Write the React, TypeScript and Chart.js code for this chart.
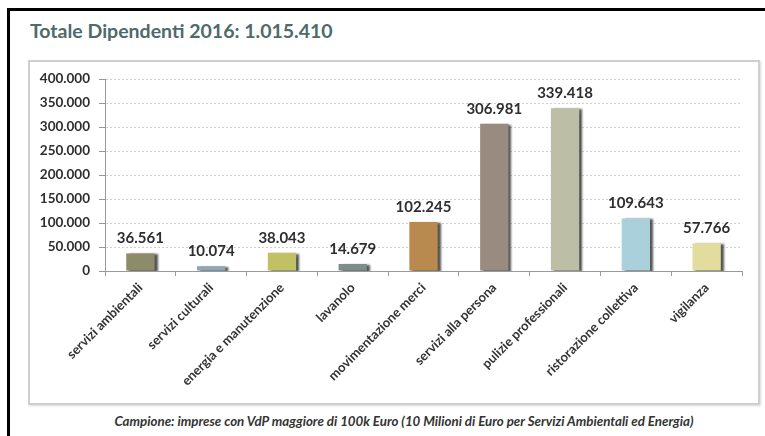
import React, { useEffect, useRef } from "react";
import { Chart, registerables } from "chart.js";

Chart.register(...registerables);

const categories = [
  "servizi ambientali",
  "servizi culturali",
  "energia e manutenzione",
  "lavanolo",
  "movimentazione merci",
  "servizi alla persona",
  "pulizie professionali",
  "ristorazione collettiva",
  "vigilanza",
];
const values = [36561, 10074, 38043, 14679, 102245, 306981, 339418, 109643, 57766];
const barColors = [
  "#8c8b6a",
  "#8fa8b6",
  "#c0c064",
  "#7f8c8a",
  "#b98a50",
  "#9a8b80",
  "#bdbea6",
  "#a9d0db",
  "#e2dd9f",
];
const yMin = 0;
const yMax = 400000;
const yStep = 50000;
const titleText = "Totale Dipendenti 2016: 1.015.410";
const footnoteText =
  "Campione: imprese con VdP maggiore di 100k Euro (10 Milioni di Euro per Servizi Ambientali ed Energia)";

const fmt = (v: number) => String(Math.round(v)).replace(/\B(?=(\d{3})+(?!\d))/g, ".");

const FONT = "Lato, 'Open Sans', sans-serif";

const shadowPlugin = {
  id: "barShadow",
  beforeDatasetsDraw(chart: any) {
    const ctx = chart.ctx;
    ctx.save();
    ctx.shadowColor = "rgba(30,30,30,0.75)";
    ctx.shadowOffsetX = 3;
    ctx.shadowOffsetY = 1;
    ctx.shadowBlur = 2;
  },
  afterDatasetsDraw(chart: any) {
    chart.ctx.restore();
  },
};

const labelPlugin = {
  id: "valueLabels",
  afterDatasetsDraw(chart: any) {
    const ctx = chart.ctx;
    const meta = chart.getDatasetMeta(0);
    ctx.save();
    ctx.font = `bold 15px ${FONT}`;
    ctx.fillStyle = "#2e2e2e";
    ctx.textAlign = "center";
    ctx.textBaseline = "middle";
    meta.data.forEach((bar: any, i: number) => {
      ctx.fillText(fmt(values[i]), bar.x, bar.y - 15);
    });
    ctx.restore();
  },
};

export default function App() {
  const canvasRef = useRef<HTMLCanvasElement | null>(null);

  useEffect(() => {
    if (!canvasRef.current) return;
    const chart = new Chart(canvasRef.current, {
      type: "bar",
      data: {
        labels: categories,
        datasets: [
          {
            data: values,
            backgroundColor: barColors,
            borderWidth: 0,
            barPercentage: 0.4,
            categoryPercentage: 1,
          },
        ],
      },
      options: {
        animation: false,
        responsive: false,
        maintainAspectRatio: false,
        layout: { padding: { top: 17, right: 16, left: 0, bottom: 0 } },
        plugins: {
          legend: { display: false },
          tooltip: { enabled: false },
          title: { display: false },
        },
        scales: {
          x: {
            offset: true,
            afterFit: (scale: any) => {
              scale.height = 132;
            },
            grid: {
              offset: true,
              drawOnChartArea: false,
              drawTicks: true,
              tickLength: 5,
              color: "#9a9a9a",
            },
            border: { color: "#9a9a9a", width: 1 },
            ticks: {
              minRotation: 45,
              maxRotation: 45,
              autoSkip: false,
              padding: 4,
              color: "#333333",
              font: { family: FONT, size: 13, weight: "bold" },
            },
          },
          y: {
            min: yMin,
            max: yMax,
            afterFit: (scale: any) => {
              scale.width = 75;
            },
            grid: {
              color: "#cfcfcf",
              tickColor: "#9a9a9a",
              tickLength: 6,
              drawTicks: true,
              tickBorderDash: [],
            },
            border: { color: "#9a9a9a", width: 1, dash: [2, 2] },
            ticks: {
              stepSize: yStep,
              padding: 9,
              color: "#2e2e2e",
              font: { family: FONT, size: 13.5, weight: "bold" },
              callback: (v: any) => fmt(Number(v)),
            },
          },
        },
      },
      plugins: [shadowPlugin, labelPlugin],
    } as any);
    return () => chart.destroy();
  }, []);

  return (
    <div
      style={{
        position: "absolute",
        left: 0,
        top: 0,
        width: 765,
        height: 436,
        background: "#ffffff",
        overflow: "hidden",
      }}
    >
      <div
        style={{
          position: "absolute",
          left: 7,
          top: 8,
          width: 765,
          height: 436,
          borderTop: "3px solid #000",
          borderLeft: "3px solid #000",
        }}
      />
      <div
        style={{
          position: "absolute",
          left: 30,
          top: 19,
          fontFamily: FONT,
          fontWeight: "bold",
          fontSize: 19.5,
          lineHeight: "24px",
          color: "#4e6a6a",
          whiteSpace: "nowrap",
        }}
      >
        {titleText}
      </div>
      <div
        style={{
          position: "absolute",
          left: 28,
          top: 60,
          width: 728,
          height: 341,
          border: "2px solid #cfcfcf",
          boxShadow: "1px 1px 2px rgba(0,0,0,0.15)",
        }}
      />
      <canvas
        ref={canvasRef}
        width={728}
        height={341}
        style={{ position: "absolute", left: 30, top: 62, width: 728, height: 341 }}
      />
      <div
        style={{
          position: "absolute",
          left: 0,
          width: 808,
          top: 413,
          textAlign: "center",
          fontFamily: FONT,
          fontStyle: "italic",
          fontWeight: "bold",
          fontSize: 13.3,
          lineHeight: "16px",
          color: "#333333",
          whiteSpace: "nowrap",
        }}
      >
        {footnoteText}
      </div>
    </div>
  );
}
